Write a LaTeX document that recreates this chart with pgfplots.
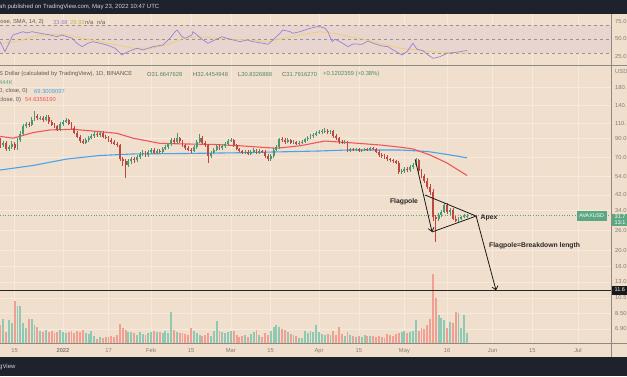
\documentclass[border=0pt]{standalone}
\usepackage{pgfplots}
\pgfplotsset{compat=1.18}
\usepackage{pgfplotstable}
\usepackage{fontspec}
\setmainfont{Liberation Sans}
\usetikzlibrary{arrows.meta}

\definecolor{bg}{HTML}{F1DFCE}
\definecolor{dark}{HTML}{1E222D}
\definecolor{gridc}{HTML}{F6E9DD}
\definecolor{sepc}{HTML}{8F8983}
\definecolor{band}{HTML}{E8D5CF}
\definecolor{rsil}{HTML}{9C80D4}
\definecolor{rsima}{HTML}{EFD06A}
\definecolor{candg}{HTML}{4A9870}
\definecolor{candr}{HTML}{C0473F}
\definecolor{volg}{HTML}{8DC9B3}
\definecolor{volr}{HTML}{F19F92}
\definecolor{mared}{HTML}{F0555A}
\definecolor{mablue}{HTML}{4AA3E8}
\definecolor{tickc}{HTML}{857B73}
\definecolor{txt}{HTML}{5F5A57}
\definecolor{valg}{HTML}{4E8A68}
\definecolor{tagg}{HTML}{5DA883}
\definecolor{dashc}{HTML}{9A928C}
\definecolor{hdr}{HTML}{D1D4DC}

\pgfplotstableread{
d o h l c v
-22 88 90.5 79.5 82 18
-21 82 87.5 80 85 24
-20 85 87 76 78 11
-19 78 82.5 76 80 23
-18 80 86.5 78 84 20
-17 84 86 77 79 42
-16 79 90.5 77.5 88 37
-15 88 99 86 96 37
-14 96 109 94 106 20
-13 106 113 103 110 15
-12 110 113 105 108 24
-11 108 119.5 106 116 24
-10 116 130 114 121 18
-9 121 124.5 115 118 16
-8 118 122.5 115 119 12
-7 119 122 113 116 11
-6 116 124 114 120 13
-5 120 123 110 113 11
-4 113 116 106 108 12
-3 108 111 103 106 10
-2 106 108 99 101 11
-1 101 112 99 109 13
0 109 116 107 113 11
1 113 118.5 111 115 10
2 115 117 108 110 11
3 110 112 102 104 12
4 104 106 95 97 10
5 97 99 90 92 12
6 92 94 85 87 11
7 87 89.5 83 85 13
8 85 90.5 83 88 10
9 88 93.5 86 91 9
10 91 96 89 93 12
11 93 99 91 96 7
12 96 98.5 92 94 4
13 94 100 92 97 6
14 97 99 90 92 5
15 92 94.5 89 91 6
16 91 93 86 88 6
17 88 90 84 86 7
18 86 88 82 84 6
19 84 86 80 82 8
20 82 83.5 66 68 19
21 68 70 62 66 15
22 66 68 53 63 13
23 63 68 61 66 11
24 66 70 64 68 11
25 68 70 65 67 10
26 67 72 65.5 70 8
27 70 75 68.5 73 11
28 73 76.5 71 74 9
29 74 76 70.5 72 8
30 72 77 70.5 75 10
31 75 79.5 73 77 11
32 77 79 72.5 74 12
33 74 78 72.5 76 11
34 76 78 73.5 75 11
35 75 80 73.5 78 10
36 78 82 76.5 80 12
37 80 85 78.5 83 10
38 83 91 81.5 88 31
39 88 91 84 86 13
40 86 97 84.5 90 11
41 90 92 85 87 10
42 87 88.5 80.5 82 10
43 82 84 77 79 9
44 79 81 75.5 77 8
45 77 79 74 76 15
46 76 82 74.5 80 12
47 80 88 78.5 86 10
48 86 95 84.5 91 8
49 91 93 83.5 85 7
50 85 87 80.5 82 8
51 82 83 65 71 10
52 71 76 69.5 74 7
53 74 79 72.5 77 12
54 77 83 75.5 81 22
55 81 83 77.5 79 12
56 79 83 77.5 81 11
57 81 86 79.5 84 10
58 84 89 82.5 87 11
59 87 90.5 85.5 88 12
60 88 89.5 80.5 82 12
61 82 83.5 76.5 78 8
62 78 79.5 74.5 76 6
63 76 77.5 72.5 74 7
64 74 77 72.5 75 8
65 75 76.5 71.5 73 6
66 73 77 71.5 75 9
67 75 79 73.5 77 11
68 77 78.5 72.5 74 13
69 74 78 72.5 76 8
70 76 77.5 73.5 75 6
71 75 76.5 69.5 71 10
72 71 72.5 66 68 8
73 68 73 66.5 71 12
74 71 79 69.5 77 16
75 77 82 75.5 80 18
76 80 91 78.5 89 16
77 89 92 86 88 14
78 88 90 84 86 13
79 86 90 84.5 88 11
80 88 89.5 83.5 85 9
81 85 88 83.5 86 8
82 86 87.5 82.5 84 7
83 84 87 82.5 85 5
84 85 88 83.5 86 5
85 86 91 84.5 89 12
86 89 93 87.5 91 10
87 91 95 89.5 93 12
88 93 96.5 91 94 11
89 94 99.5 92.5 97 18
90 97 101 95 98 11
91 98 102 96 99 9
92 99 103.5 97 100 8
93 100 102 96 98 9
94 98 101.5 96 99 8
95 99 100.5 91 93 12
96 93 95 88 90 8
97 90 91.5 84 86 16
98 86 88 83 85 9
99 85 88 83.5 86 7
100 86 87 74.5 76 11
101 76 79.5 74.5 78 8
102 78 79.5 75.5 77 7
103 77 79.5 75.5 78 6
104 78 79.5 74.5 76 7
105 76 78.5 74.5 77 6
106 77 79.5 75.5 78 8
107 78 79.5 75.5 77 7
108 77 80.5 75.5 79 7
109 79 80.5 76.5 78 7
110 78 79.5 73.5 75 6
111 75 76.5 70.5 72 7
112 72 73.5 69.5 71 6
113 71 72.5 68.5 70 5
114 70 71.5 66.5 68 9
115 68 69.5 65.5 67 8
116 67 68.5 64.5 66 7
117 66 67.5 63.5 65 9
118 65 66 55.5 57 10
119 57 59.5 55.5 58 11
120 58 61.5 56.5 60 12
121 60 61.5 57.5 59 10
122 59 62.5 57.5 61 11
123 61 64.5 59.5 63 12
124 63 69 61.5 67 23
125 67 68 56.5 58 12
126 58 59.5 52.5 54 15
127 54 55.5 49.5 51 14
128 51 52.5 45.5 47 18
129 47 48.5 42 44 24
130 44 45.5 29.5 31 69
131 31 32 22.4 30.3 45
132 30.3 33 29.5 32.2 28
133 32.2 34.5 31.2 33.5 25
134 33.5 37.5 32.8 36.5 23
135 36.5 37.5 32.5 33.2 15
136 33.2 35 32 34.2 21
137 34.2 35 29.8 30.5 20
138 30.5 31.5 29 29.6 31
139 29.6 31 28.8 30.4 30
140 30.4 31.8 29.9 31.2 15
141 31.2 32.6 30.6 31.66 28
142 31.66 32.45 30.83 31.79 10
}\ohlc

\begin{document}
\begin{tikzpicture}[x=1pt,y=1pt]
\path[use as bounding box] (0,0) rectangle (627,376);
\clip (0,0) rectangle (627,376);
\fill[bg] (0,0) rectangle (627,376);

% ---------------- RSI panel
\begin{axis}[at={(0pt,310.5pt)}, anchor=south west, width=611pt, height=52pt, scale only axis,
  xmin=-22.14, xmax=192.6, ymin=12.1, ymax=86.4,
  axis line style={draw=none}, major tick length=0pt,
  xtick={-17,0,16,31,45,59,73,90,104,120,135,151,165,181}, xticklabels={},
  xmajorgrids, major grid style={gridc, line width=0.6pt},
  ytick={25,50,75}, yticklabels={25.0,50.0,75.0}, yticklabel pos=right,
  ticklabel style={font=\fontsize{5.8}{6}\selectfont, text=tickc, inner sep=0pt},
  yticklabel style={anchor=west}, yticklabel shift=4pt,
  /pgf/number format/assume math mode=true]
\addplot[fill=band, draw=none] coordinates {(-22.14,30) (192.6,30) (192.6,70) (-22.14,70)};
\addplot[dashc, dashed, line width=0.5pt] coordinates {(-22.14,70) (192.6,70)};
\addplot[dashc, dashed, line width=0.5pt] coordinates {(-22.14,50) (192.6,50)};
\addplot[dashc, dashed, line width=0.5pt] coordinates {(-22.14,30) (192.6,30)};
\addplot[rsima, line width=0.7pt] coordinates {(-22.1,43.9) (-16.2,46.1) (-10.5,53.3) (-4.6,56.7) (1.4,55.7) (7,51) (13,46.1) (19,41.4) (24.6,36.7) (30.6,36.7) (36.6,41.4) (42.2,51) (48.2,53.3) (54.1,51) (59.8,49.6) (65.7,48.6) (71.7,46.1) (77.3,51) (83.3,55.7) (90.3,60.4) (94.9,58.2) (100.9,53.3) (106.9,48.6) (112.5,42.4) (118.5,36.7) (124.4,34.3) (130.1,31.8) (136,30.4) (142,29.6)};
\addplot[rsil, line width=0.7pt] coordinates {(-22.1,46.1) (-20.4,31.8) (-17.6,55.7) (-14.1,60.4) (-12.7,58.6) (-10.9,60.4) (-8.1,58.2) (-4.6,55.7) (-2.1,53.3) (-0.4,55.7) (1.4,53.3) (3.2,51) (4.9,43.9) (6.7,39) (8.8,43.9) (10.5,46.1) (13,43.9) (15.5,41.4) (18.3,36.7) (20.7,27.1) (22.8,31.8) (26,36.7) (28.1,34.3) (31.6,39) (35.1,41.4) (37.6,51) (39.4,60.4) (40.1,62.9) (41.8,53.3) (42.9,51) (45.3,55.7) (45.7,60.4) (47.1,55.7) (49.2,48.6) (51,43.9) (53.4,48.6) (55.9,53.3) (57.6,51) (59.8,48.6) (62.2,46.1) (64.7,48.6) (66.8,46.1) (70.3,43.9) (72.1,42.4) (73.8,48.6) (76.3,58.2) (77.3,62.9) (79.8,60.4) (80.8,58.2) (83.3,60.4) (85.1,62.9) (86.8,65.3) (89.3,67.6) (90.3,67.6) (92.1,65.3) (93.1,60.4) (94.6,46.1) (95.6,49.6) (97.4,46.1) (100.2,39) (101.9,42.9) (105.1,42.4) (107.2,47.1) (109,43.9) (112.1,40) (114.2,39) (116,34.3) (119.2,27.1) (120.9,31.8) (123,43.9) (124.4,35.3) (126.5,33.3) (128.3,27.1) (130.1,22.4) (132.5,24.7) (135,29.6) (137.1,30.4) (139.5,31.8) (142,33.7)};
\end{axis}

% ---------------- price grid and tick labels
\begin{axis}[at={(0pt,33pt)}, anchor=south west, width=611pt, height=277pt, scale only axis,
  xmin=-22.14, xmax=192.6, ymode=log, ymin=5.71, ymax=238.9,
  axis line style={draw=none}, major tick length=0pt,
  xtick={-17,0,16,31,45,59,73,90,104,120,135,151,165,181},
  xticklabels={15,\textbf{2022},17,Feb,15,Mar,15,Apr,15,May,16,Jun,15,Jul},
  ytick={6.9,8.5,10.5,13,16,20,26,34,42,54,70,90,110,140,180},
  yticklabels={6.90,8.50,10.5,13.0,16.0,20.0,26.0,34.0,42.0,54.0,70.0,90.0,110.,140.,180.},
  yticklabel pos=right,
  grid=major, major grid style={gridc, line width=0.6pt},
  ticklabel style={font=\fontsize{5.8}{6}\selectfont, text=tickc, inner sep=0pt},
  xticklabel style={anchor=north}, xticklabel shift=5pt,
  yticklabel style={anchor=west}, yticklabel shift=4pt,
  /pgf/number format/assume math mode=true]
\addplot[draw=none] coordinates {(0,10)};
\end{axis}

% ---------------- volume
\begin{axis}[at={(0pt,33pt)}, anchor=south west, width=611pt, height=277pt, scale only axis,
  xmin=-22.14, xmax=192.6, ymin=0, ymax=277, hide axis]
\addplot[ycomb, volg, line width=1.9pt] table[x=d, y expr={\thisrow{c}>=\thisrow{o} ? \thisrow{v} : 0}] {\ohlc};
\addplot[ycomb, volr, line width=1.9pt] table[x=d, y expr={\thisrow{c}<\thisrow{o} ? \thisrow{v} : 0}] {\ohlc};
\end{axis}

% ---------------- price
\begin{axis}[at={(0pt,33pt)}, anchor=south west, width=611pt, height=277pt, scale only axis,
  xmin=-22.14, xmax=192.6, ymode=log, ymin=5.71, ymax=238.9, hide axis]
\addplot[tagg!80!gray, dotted, line width=0.6pt] coordinates {(-22.14,31.79) (192.6,31.79)};
\addplot[mablue, line width=1.1pt] coordinates {(-22.1,58.8) (-10.5,62.5) (1.4,68.2) (13,71.5) (24.6,73) (43.6,73.5) (62.2,74.2) (90.3,76) (100,77) (118.5,77) (128,75.5) (135,72.5) (142,69.3)};
\addplot[mared, line width=1.1pt] coordinates {(-22.1,92.5) (-17.5,90.3) (-10.5,97.4) (-4.6,100.9) (3.5,101.8) (13,98.6) (19,96.4) (24.6,90.3) (34.1,84.2) (43.6,83.5) (52.7,83) (62.2,81.5) (71.7,79.5) (75,78.9) (83.3,81.5) (92,86.9) (101.9,84.7) (111.4,82.4) (118.5,80) (123,78.1) (129,72) (134.9,64.7) (142,54.6)};
\pgfplotstablegetrowsof{\ohlc}
\pgfmathtruncatemacro\lastrow{\pgfplotsretval-1}
\pgfplotsforeachungrouped \i in {0,...,\lastrow}{%
  \pgfplotstablegetelem{\i}{d}\of\ohlc \let\cd\pgfplotsretval
  \pgfplotstablegetelem{\i}{o}\of\ohlc \let\co\pgfplotsretval
  \pgfplotstablegetelem{\i}{h}\of\ohlc \let\ch\pgfplotsretval
  \pgfplotstablegetelem{\i}{l}\of\ohlc \let\cl\pgfplotsretval
  \pgfplotstablegetelem{\i}{c}\of\ohlc \let\cc\pgfplotsretval
  \pgfmathparse{\cc>=\co ? 1 : 0}%
  \ifdim\pgfmathresult pt>0.5pt \def\ccol{candg}\else\def\ccol{candr}\fi
  \edef\doplot{%
    \noexpand\addplot[\ccol, line width=0.6pt, forget plot] coordinates {(\cd,\cl) (\cd,\ch)};
    \noexpand\addplot[\ccol, line width=1.9pt, forget plot] coordinates {(\cd,\co) (\cd,\cc)};
  }\doplot
}
\addplot[black!85, line width=1.1pt] coordinates {(-22.14,11.6) (192.6,11.6)};
% flag pattern drawing
\addplot[black!90, line width=0.8pt, -{Straight Barb[length=3.5pt,width=6pt]}] coordinates {(123.8,67.9) (129.7,25.5)};
\addplot[black!90, line width=0.8pt] coordinates {(127.2,42.0) (145.2,31.6) (129.7,25.5)};
\addplot[black!90, line width=0.8pt, -{Straight Barb[length=3.5pt,width=6pt]}] coordinates {(145.2,31.6) (152.2,11.6)};
\end{axis}

% ---------------- overlay (pixel coordinates, y downwards)
\begin{scope}[shift={(0,376)}, y=-1pt]
\fill[dark] (0,0) rectangle (627,13.5);
\fill[dark] (0,357) rectangle (627,376);
\draw[sepc, line width=0.9pt] (0,65.5) -- (627,65.5);
\draw[sepc, line width=0.6pt] (0,343) -- (627,343);
\draw[sepc, line width=0.6pt] (611,13.5) -- (611,357);
\node[anchor=west, inner sep=0pt, text=hdr, font=\fontsize{6}{7}\selectfont] at (-1,7) {ah published on TradingView.com, May 23, 2022 10:47 UTC};
\node[anchor=west, inner sep=0pt, text=hdr, font=\fontsize{6}{7}\selectfont] at (-1,367) {gView};
% RSI legend
\begin{scope}[every node/.style={anchor=west, inner sep=0pt, font=\fontsize{5.8}{7}\selectfont}]
\node[text=txt] at (-1,22.3) {lose, SMA, 14, 2)};
\node[text=rsil] at (53,22.3) {33.68};
\node[text=rsima!85!black] at (70,22.3) {28.93};
\node[text=txt] at (85,22.3) {n/a};
\node[text=txt] at (97,22.3) {n/a};
% price legend
\node[text=txt] at (-1,74.3) {S Dollar (calculated by TradingView), 1D, BINANCE};
\node at (147,74.3) {\textcolor{txt}{O}\textcolor{valg}{31.6647628}};
\node at (193,74.3) {\textcolor{txt}{H}\textcolor{valg}{32.4454948}};
\node at (238,74.3) {\textcolor{txt}{L}\textcolor{valg}{30.8326888}};
\node at (282,74.3) {\textcolor{txt}{C}\textcolor{valg}{31.7916270}};
\node[text=valg] at (323,74.3) {+0.1202359 (+0.38\%)};
\node[text=tagg] at (-1,82.7) {444K};
\node[text=txt] at (-1,91.3) {0, close, 0)};
\node[text=mablue] at (34,91.3) {69.3009097};
\node[text=txt] at (-1,100) {close, 0)};
\node[text=mared] at (25,100) {54.6356190};
\node[text=tickc] at (615,72) {USD};
\end{scope}
% tags
\fill[tagg] (576.5,211) rectangle (607,221);
\node[text=white, inner sep=0pt, font=\fontsize{5.3}{6}\selectfont] at (591.7,216) {AVAXUSD};
\fill[tagg] (611.5,213.5) rectangle (627,226);
\node[anchor=west, text=white, inner sep=0pt, font=\fontsize{5.5}{6}\selectfont] at (614.5,216.8) {31.7};
\node[anchor=west, text=white, inner sep=0pt, font=\fontsize{5.5}{6}\selectfont] at (614.5,222.5) {13:1};
\fill[black!90] (611.5,285.5) rectangle (627,294.5);
\node[anchor=west, text=white, inner sep=0pt, font=\fontsize{5.5}{6}\selectfont] at (614.5,290) {11.6};
% annotation labels
\begin{scope}[every node/.style={inner sep=0pt, font=\bfseries\fontsize{6.8}{8}\selectfont, text=black!85}]
\node at (404,201.7) {Flagpole};
\node[anchor=west] at (480.5,217.5) {Apex};
\node[anchor=west] at (489,246) {Flagpole=Breakdown length};
\end{scope}
\end{scope}
\end{tikzpicture}
\end{document}
